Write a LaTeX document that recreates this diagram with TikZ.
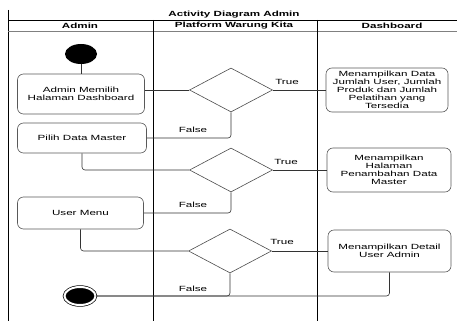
\documentclass[tikz,border=0pt]{standalone}
\usepackage{fontspec}
\setmainfont{Liberation Sans}[FakeStretch=1.55]
\usetikzlibrary{shapes.geometric}

\begin{document}
\begin{tikzpicture}[x=1pt,y=-1pt,
    every node/.style={font=\fontsize{7.5}{8.5}\selectfont},
    head/.style={font=\bfseries\fontsize{7.5}{8.5}\selectfont},
    act/.style={draw=black!65, line width=0.6pt, rounded corners=6pt, align=center, inner sep=1pt},
    info/.style={act, font=\fontsize{7.5}{8}\selectfont},
    choice/.style={diamond, draw=black!70, line width=0.6pt, minimum width=83pt, minimum height=44pt, inner sep=0pt},
    flow/.style={draw=black!80, line width=0.6pt, rounded corners=3pt},
    lane/.style={line width=0.9pt},
    guard/.style={inner sep=1pt}]
            \useasboundingbox (0,0) rectangle (457,321);
            % swimlanes
            \draw[lane] (8,10) -- (8,321);
            \draw[lane] (8,20) -- (457,20);
            \draw[black!50, line width=0.8pt] (8,31) -- (457,31);
            \draw[lane] (153,20) -- (153,321);
            \draw[lane] (317,20) -- (317,321);
            \node[head] (judul) at (234,14.5) {Activity Diagram Admin};
            \node[head] (hadmin) at (80,25.5) {Admin};
            \node[head] (hplatform) at (234,25.5) {Platform Warung Kita};
            \node[head] (hdash) at (392,25.5) {Dashboard};
            % admin
            \node[ellipse, fill=black, minimum width=32pt, minimum height=20pt, inner sep=0pt] (start) at (81,54) {};
            \node[act, minimum width=127pt, minimum height=40pt] (a1) at (81,94) {Admin Memilih\\Halaman Dashboard};
            \node[act, minimum width=129pt, minimum height=30pt] (a2) at (82,138) {Pilih Data Master};
            \node[act, minimum width=126pt, minimum height=32pt] (a3) at (80.5,213) {User Menu};
            \node[ellipse, draw=black, line width=0.7pt, fill=black, double=white, double distance=2pt, minimum width=31pt, minimum height=18pt, inner sep=0pt] (stop) at (80,296) {};
            % platform
            \node[choice] (d1) at (231,90) {};
            \node[choice] (d2) at (231,170) {};
            \node[choice] (d3) at (230,251) {};
            % dashboard
            \node[info, minimum width=122pt, minimum height=44pt] (b1) at (387,90) {Menampilkan Data\\Jumlah User, Jumlah\\Produk dan Jumlah\\Pelatihan yang\\Tersedia};
            \node[info, minimum width=124pt, minimum height=44pt] (b2) at (389,170) {Menampilkan\\Halaman\\Penambahan Data\\Master};
            \node[info, minimum width=123pt, minimum height=42pt] (b3) at (389.5,251) {Menampilkan Detail\\User Admin};
            % flows
            \draw[flow] (start) -- (a1);
            \draw[flow] (a1.east |- d1) -- (d1.west);
            \draw[flow] (d1.east) -- (b1.west);
            \draw[flow] (d1.south) |- (a2.east);
            \draw[flow] (a2.south) |- (d2.west);
            \draw[flow] (d2.east) -- (b2.west);
            \draw[flow] (d2.south) |- (a3.east);
            \draw[flow] (a3.south) |- (d3.west);
            \draw[flow] (d3.east) -- (b3.west);
            \draw[flow] (d3.south) |- (stop.east);
            \draw[flow] (b3.south) |- (stop.east);
            % guards
            \node[guard] (t1) at (287,82) {True};
            \node[guard] (f1) at (193,130) {False};
            \node[guard] (t2) at (286,162) {True};
            \node[guard] (f2) at (193,205) {False};
            \node[guard] (t3) at (282,242) {True};
            \node[guard] (f3) at (193,289) {False};
        \end{tikzpicture}
\end{document}
